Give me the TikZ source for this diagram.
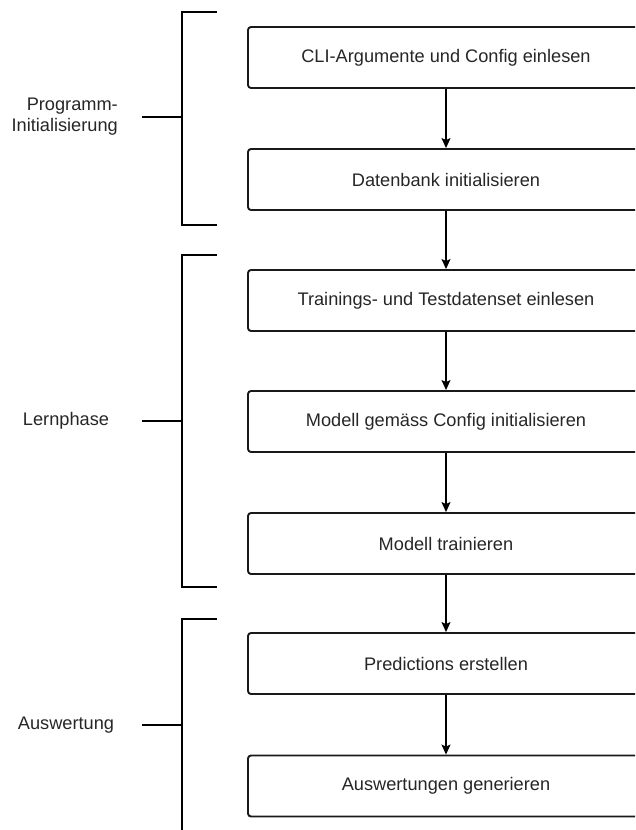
\documentclass[tikz,border=0pt]{standalone}
\usepackage{fontspec}
\setmainfont{Liberation Sans}
\usetikzlibrary{arrows.meta}
\begin{document}
\begin{tikzpicture}[x=1pt,y=-1pt,
  stepbox/.style={draw=black!90, line width=1.9pt, rounded corners=3pt,
    minimum width=396pt, minimum height=61pt, inner sep=0pt,
    font=\fontsize{18.2}{22}\selectfont, text=black!85},
  flow/.style={line width=1.2pt, -{Stealth[length=10pt,width=9pt,inset=2pt]}},
  brace/.style={line width=2.2pt, line cap=butt},
  phase/.style={font=\fontsize{18.2}{21}\selectfont, text=black!85, inner sep=0pt}]
\useasboundingbox (0,0) rectangle (635,830);
\clip (0,0) rectangle (635,830);

% process steps
\node[stepbox] (cli)   at (446,57.5)  {CLI-Argumente und Config einlesen};
\node[stepbox] (db)    at (446,179.5) {Datenbank initialisieren};
\node[stepbox] (data)  at (446,300.5) {Trainings- und Testdatenset einlesen};
\node[stepbox] (model) at (446,421.5) {Modell gemäss Config initialisieren};
\node[stepbox] (train) at (446,543.5) {Modell trainieren};
\node[stepbox] (pred)  at (446,663.5) {Predictions erstellen};
\node[stepbox] (eval)  at (446,786)   {Auswertungen generieren};

% flow arrows
\draw[flow] (cli)   -- (db);
\draw[flow] (db)    -- (data);
\draw[flow] (data)  -- (model);
\draw[flow] (model) -- (train);
\draw[flow] (train) -- (pred);
\draw[flow] (pred)  -- (eval);

% phase labels
\node[phase, align=right, anchor=east] (init) at (118,117) {Programm-\\Initialisierung};
\node[phase, anchor=center] (learn) at (66,421) {Lernphase};
\node[phase, anchor=center] (ausw)  at (66,725) {Auswertung};

% phase brackets
\draw[brace] (217,12) -- (182,12) -- (182,225) -- (217,225);
\draw[brace] (142,117) -- (182,117);
\draw[brace] (217,255) -- (182,255) -- (182,587) -- (217,587);
\draw[brace] (142,421) -- (182,421);
\draw[brace] (217,619) -- (182,619) -- (182,831) -- (217,831);
\draw[brace] (142,725) -- (182,725);
\end{tikzpicture}
\end{document}
